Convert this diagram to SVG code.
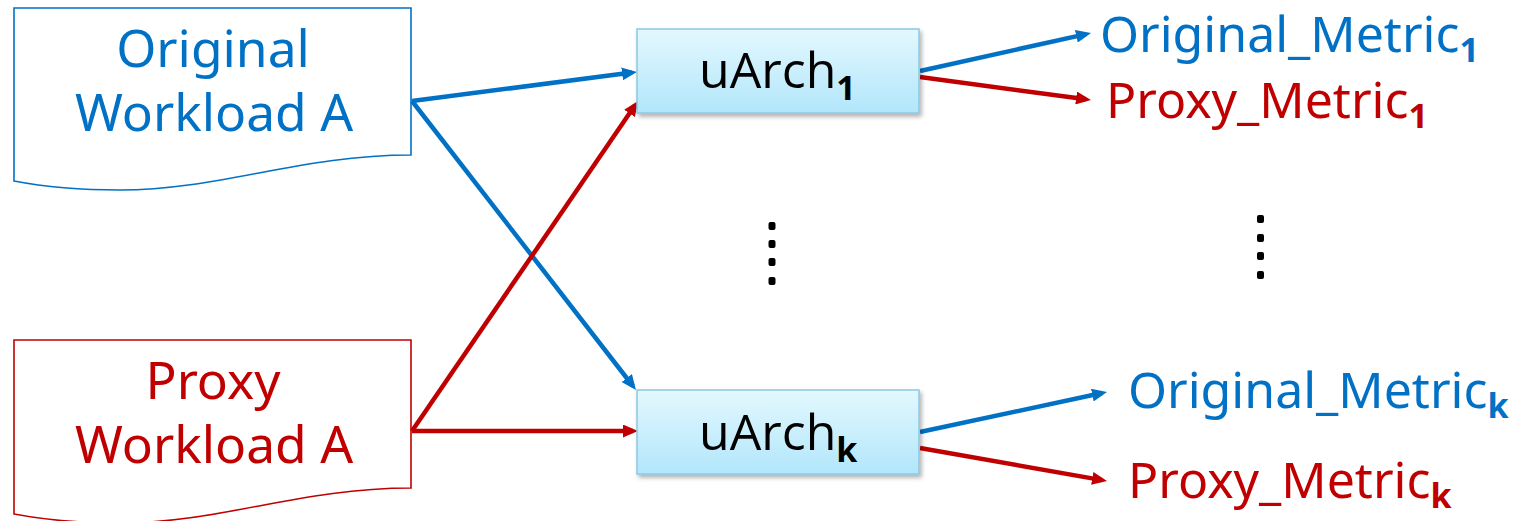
<svg xmlns="http://www.w3.org/2000/svg" width="1519" height="521" viewBox="0 0 1519 521">
  <defs>
    <linearGradient id="boxFill" x1="0" y1="0" x2="0" y2="1">
      <stop offset="0" stop-color="#e3f8fe"/>
      <stop offset="1" stop-color="#b2e6fb"/>
    </linearGradient>
    <filter id="shadow" x="-10%" y="-20%" width="125%" height="150%">
      <feDropShadow dx="2" dy="3" stdDeviation="2" flood-color="#000" flood-opacity="0.3"/>
    </filter>
    <marker id="headBlue" markerUnits="userSpaceOnUse" markerWidth="15" markerHeight="13" refX="10" refY="6.5" orient="auto">
      <path d="M0,0 L15,6.5 L0,13 Z" fill="#0071c5"/>
    </marker>
    <marker id="headRed" markerUnits="userSpaceOnUse" markerWidth="15" markerHeight="13" refX="10" refY="6.5" orient="auto">
      <path d="M0,0 L15,6.5 L0,13 Z" fill="#c00000"/>
    </marker>
  </defs>
  <style>
    .doc { fill: #ffffff; stroke-width: 1.6; }
    .blue { fill: #0071c5; }
    .red { fill: #c00000; }
    .lbl { font-family: "Noto Sans", "Open Sans", sans-serif; font-size: 51.5px; }
    .metric { font-size: 50px; }
    .box { fill: url(#boxFill); stroke: #8cc8e4; stroke-width: 1.5; filter: url(#shadow); }
    .boxTxt { font-family: "Open Sans", "Noto Sans", sans-serif; font-size: 50px; fill: #000; }
    .sub { font-size: 34px; font-weight: bold; }
    .wire { fill: none; stroke-width: 4.5; }
    .wb { stroke: #0071c5; marker-end: url(#headBlue); }
    .wr { stroke: #c00000; marker-end: url(#headRed); }
    .dot { fill: #000; }
  </style>

  <!-- workload documents -->
  <g id="original-workload">
    <path class="doc" stroke="#0071c5" d="M14,8 H411 V155 C300,155 220,190 120,190 C70,190 40,186 14,181 Z"/>
    <text class="lbl blue" text-anchor="middle" x="213" y="67">Original</text>
    <text class="lbl blue" text-anchor="middle" x="214" y="131">Workload A</text>
  </g>
  <g id="proxy-workload">
    <path class="doc" stroke="#c00000" d="M14,340 H411 V488 C300,488 220,523 120,523 C70,523 40,519 14,514 Z"/>
    <text class="lbl red" text-anchor="middle" x="213" y="399">Proxy</text>
    <text class="lbl red" text-anchor="middle" x="214" y="463">Workload A</text>
  </g>

  <!-- connectors -->
  <g id="connectors">
    <line class="wire wb" x1="412" y1="101" x2="632.0" y2="72.6"/>
    <line class="wire wb" x1="412" y1="101" x2="632.9" y2="386.0"/>
    <line class="wire wr" x1="412" y1="431" x2="635.2" y2="105.1"/>
    <line class="wire wr" x1="412" y1="431" x2="633" y2="431"/>
    <line class="wire wb" x1="920" y1="71" x2="1086.1" y2="34.1"/>
    <line class="wire wr" x1="920" y1="77" x2="1086.0" y2="99.3"/>
    <line class="wire wb" x1="920" y1="432" x2="1102.1" y2="393.0"/>
    <line class="wire wr" x1="920" y1="448" x2="1102.1" y2="480.1"/>
  </g>

  <!-- microarchitecture boxes -->
  <g id="uarch-1">
    <rect class="box" x="637" y="29" width="282" height="84"/>
    <text class="boxTxt" x="699" y="88">uArch<tspan class="sub" dy="12">1</tspan></text>
  </g>
  <g id="uarch-k">
    <rect class="box" x="637" y="390" width="282" height="84"/>
    <text class="boxTxt" x="699" y="450">uArch<tspan class="sub" dy="12">k</tspan></text>
  </g>

  <!-- vertical ellipses -->
  <g id="ellipsis-uarch">
    <rect class="dot" x="768.5" y="222" width="7" height="8" rx="2"/>
    <rect class="dot" x="768.5" y="240" width="7" height="8" rx="2"/>
    <rect class="dot" x="768.5" y="258" width="7" height="8" rx="2"/>
    <rect class="dot" x="768.5" y="277" width="7" height="8" rx="2"/>
  </g>
  <g id="ellipsis-metrics">
    <rect class="dot" x="1257" y="215" width="7" height="8" rx="2"/>
    <rect class="dot" x="1257" y="234" width="7" height="8" rx="2"/>
    <rect class="dot" x="1257" y="252" width="7" height="8" rx="2"/>
    <rect class="dot" x="1257" y="271" width="7" height="8" rx="2"/>
  </g>

  <!-- metric outputs -->
  <g id="original-metric-1">
    <text class="lbl metric blue" x="1100" y="52">Original_Metric<tspan class="sub" dy="10">1</tspan></text>
  </g>
  <g id="proxy-metric-1">
    <text class="lbl metric red" x="1106" y="118">Proxy_Metric<tspan class="sub" dy="10">1</tspan></text>
  </g>
  <g id="original-metric-k">
    <text class="lbl metric blue" x="1128" y="408">Original_Metric<tspan class="sub" dy="10">k</tspan></text>
  </g>
  <g id="proxy-metric-k">
    <text class="lbl metric red" x="1128" y="498">Proxy_Metric<tspan class="sub" dy="10">k</tspan></text>
  </g>
</svg>
